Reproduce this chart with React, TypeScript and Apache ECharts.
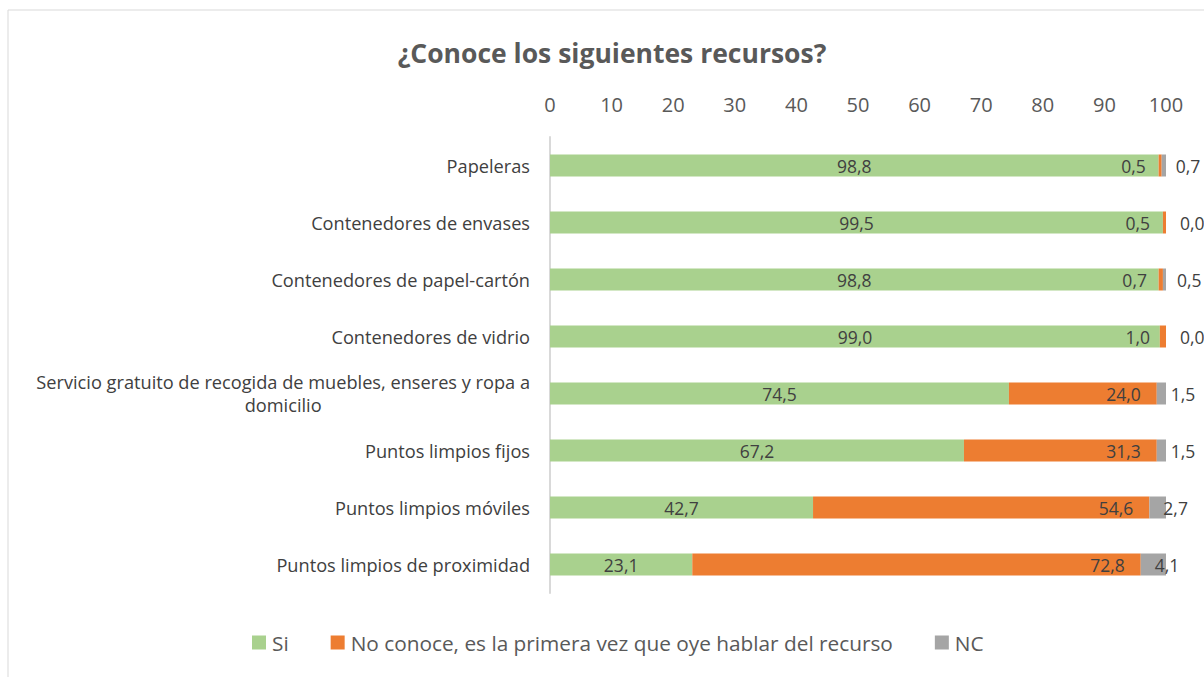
import React, { useEffect, useRef } from "react";
import * as echarts from "echarts";

const categories = [
  "Papeleras",
  "Contenedores de envases",
  "Contenedores de papel-cartón",
  "Contenedores de vidrio",
  "Servicio gratuito de recogida de muebles, enseres y ropa a\ndomicilio",
  "Puntos limpios fijos",
  "Puntos limpios móviles",
  "Puntos limpios de proximidad",
];
const siValues = [98.8, 99.5, 98.8, 99.0, 74.5, 67.2, 42.7, 23.1];
const noValues = [0.5, 0.5, 0.7, 1.0, 24.0, 31.3, 54.6, 72.8];
const ncValues = [0.7, 0.0, 0.5, 0.0, 1.5, 1.5, 2.7, 4.1];
const seriesNames = ["Si", "No conoce, es la primera vez que oye hablar del recurso", "NC"];
const xTicks = { min: 0, max: 100, interval: 10 };

const FONT = "'Open Sans', 'Noto Sans', sans-serif";
const fmt = (p: any) => Number(p.value).toFixed(1).replace(".", ",");

export default function App() {
  const ref = useRef<HTMLDivElement>(null);
  useEffect(() => {
    document.body.style.margin = "0";
    const chart = echarts.init(ref.current!, undefined, { renderer: "svg" });
    const labelBase = { show: true, color: "#404040", fontSize: 17.5, fontFamily: FONT, formatter: fmt };
    chart.setOption({
      animation: false,
      textStyle: { fontFamily: FONT },
      title: {
        text: "¿Conoce los siguientes recursos?",
        left: 607,
        textAlign: "center",
        top: 34,
        textStyle: { fontSize: 26.5, fontWeight: "bold", color: "#595959", fontFamily: FONT },
      },
      graphic: [
        {
          type: "rect",
          shape: { x: 8, y: 10, width: 1400, height: 800 },
          style: { fill: "none", stroke: "#d9d9d9", lineWidth: 1 },
          silent: true,
        },
      ],
      legend: {
        bottom: 24,
        left: 252,
        padding: 0,
        itemWidth: 14,
        itemHeight: 14,
        itemGap: 42,
        icon: "rect",
        textStyle: { fontSize: 20.8, color: "#595959", fontFamily: FONT, padding: [0, 0, 0, 1] },
        data: seriesNames,
      },
      grid: { left: 550, right: 38, top: 137, height: 456, containLabel: false },
      xAxis: {
        type: "value",
        position: "top",
        min: xTicks.min,
        max: xTicks.max,
        interval: xTicks.interval,
        axisLine: { show: false },
        axisTick: { show: false },
        splitLine: { show: false },
        axisLabel: { color: "#595959", fontSize: 20, fontFamily: FONT, margin: 23 },
      },
      yAxis: {
        type: "category",
        inverse: true,
        data: categories,
        axisLine: { show: true, lineStyle: { color: "#d9d9d9", width: 2 } },
        axisTick: { show: false },
        axisLabel: {
          color: "#404040",
          fontSize: 18.2,
          fontFamily: FONT,
          margin: 20,
          lineHeight: 23,
          formatter: (v: string) => v.split("\n").map((l) => `{c|${l}}`).join("\n"),
          rich: { c: { align: "center", fontSize: 18.2, color: "#404040", fontFamily: FONT, lineHeight: 23 } },
        },
      },
      series: [
        {
          name: seriesNames[0],
          type: "bar",
          stack: "t",
          barWidth: 22,
          itemStyle: { color: "#A9D18E" },
          label: { ...labelBase, position: "inside" },
          data: siValues,
        },
        {
          name: seriesNames[1],
          type: "bar",
          stack: "t",
          barWidth: 22,
          itemStyle: { color: "#ED7D31" },
          label: { ...labelBase, position: "insideRight", distance: 16 },
          data: noValues,
        },
        {
          name: seriesNames[2],
          type: "bar",
          stack: "t",
          barWidth: 22,
          itemStyle: { color: "#A5A5A5" },
          label: { ...labelBase, position: "insideLeft", distance: 14 },
          data: ncValues,
        },
      ],
    });
    return () => chart.dispose();
  }, []);
  return <div ref={ref} style={{ width: 1204, height: 677 }} />;
}
